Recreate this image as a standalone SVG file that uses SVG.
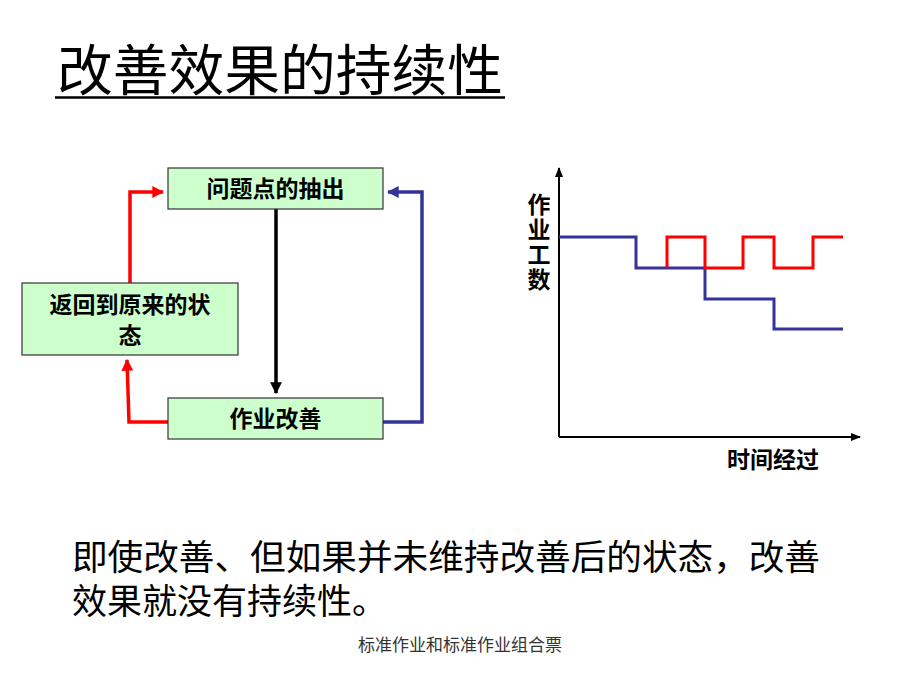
<svg xmlns="http://www.w3.org/2000/svg" width="920" height="690" viewBox="0 0 920 690">
<defs>
<style>
.cjk{font-family:"Noto Sans CJK SC","Noto Sans",sans-serif;}
.box{fill:#CCFFCC;stroke:#333333;stroke-width:1.2;}
.lbl{font-size:23px;font-weight:bold;fill:#000;text-anchor:middle;}
.red{stroke:#FF0000;stroke-width:3.5;fill:none;}
.blue{stroke:#333399;stroke-width:3.5;fill:none;}
.blk{stroke:#000;stroke-width:3.5;fill:none;}
.ax{stroke:#000;stroke-width:2;fill:none;}
</style>
<marker id="aRed" viewBox="0 0 10 10" refX="9" refY="5" markerWidth="3.4" markerHeight="3.4" orient="auto" markerUnits="strokeWidth"><path d="M0,0 L10,5 L0,10 z" fill="#FF0000"/></marker>
<marker id="aBlue" viewBox="0 0 10 10" refX="9" refY="5" markerWidth="3.4" markerHeight="3.4" orient="auto" markerUnits="strokeWidth"><path d="M0,0 L10,5 L0,10 z" fill="#333399"/></marker>
<marker id="aBlk" viewBox="0 0 10 10" refX="9" refY="5" markerWidth="3.4" markerHeight="3.4" orient="auto" markerUnits="strokeWidth"><path d="M0,0 L10,5 L0,10 z" fill="#000"/></marker>
<marker id="aAx" viewBox="0 0 10 10" refX="9" refY="5" markerWidth="5" markerHeight="5" orient="auto" markerUnits="strokeWidth"><path d="M0,1 L10,5 L0,9 z" fill="#000"/></marker>
</defs>
<rect width="920" height="690" fill="#FFFFFF"/>

<g id="title">
<text class="cjk" x="57" y="90" font-size="55" fill="#000" textLength="446" lengthAdjust="spacingAndGlyphs">改善效果的持续性</text>
<line x1="55" y1="97.5" x2="505" y2="97.5" stroke="#000" stroke-width="2.5"/>
</g>

<g id="connectors">
<polyline class="red" points="130,283 130,192 163,192" marker-end="url(#aRed)"/>
<polyline class="red" points="168,422 129,422 127,360" marker-end="url(#aRed)"/>
<line class="blk" x1="276" y1="209" x2="276" y2="393" marker-end="url(#aBlk)"/>
<polyline class="blue" points="383,422 422,422 422,192 388,192" marker-end="url(#aBlue)"/>
</g>

<g id="node-problem">
<rect class="box" x="168" y="168" width="215" height="41"/>
<text class="cjk lbl" x="275.5" y="197">问题点的抽出</text>
</g>
<g id="node-revert">
<rect class="box" x="22" y="283" width="216" height="72"/>
<text class="cjk lbl" x="130" y="313">返回到原来的状</text>
<text class="cjk lbl" x="130" y="344">态</text>
</g>
<g id="node-improve">
<rect class="box" x="168" y="398" width="215" height="41"/>
<text class="cjk lbl" x="275.5" y="427">作业改善</text>
</g>

<g id="chart">
<line class="ax" x1="559" y1="437" x2="559" y2="168" marker-end="url(#aAx)"/>
<line class="ax" x1="559" y1="437" x2="860" y2="437" marker-end="url(#aAx)"/>
<polyline fill="none" stroke="#333399" stroke-width="3" points="559,237 636,237 636,268 705,268 705,299 774,299 774,329 843,329"/>
<polyline fill="none" stroke="#FF0000" stroke-width="3" points="667,268 667,237 705,237 705,268 743,268 743,237 774,237 774,268 813,268 813,237 843,237"/>
<g class="cjk" font-size="23" font-weight="bold" fill="#000">
<text x="539" y="193" writing-mode="vertical-rl" style="writing-mode:vertical-rl" letter-spacing="2">作业工数</text>
<text x="773" y="468" text-anchor="middle">时间经过</text>
</g>
</g>

<text id="body" class="cjk" font-size="35" fill="#000"><tspan x="72" y="570" textLength="748" lengthAdjust="spacingAndGlyphs">即使改善、但如果并未维持改善后的状态，改善</tspan><tspan x="72" y="614">效果就没有持续性。</tspan></text>
<text id="footer" class="cjk" x="460" y="651" font-size="17" fill="#333333" text-anchor="middle">标准作业和标准作业组合票</text>
</svg>
